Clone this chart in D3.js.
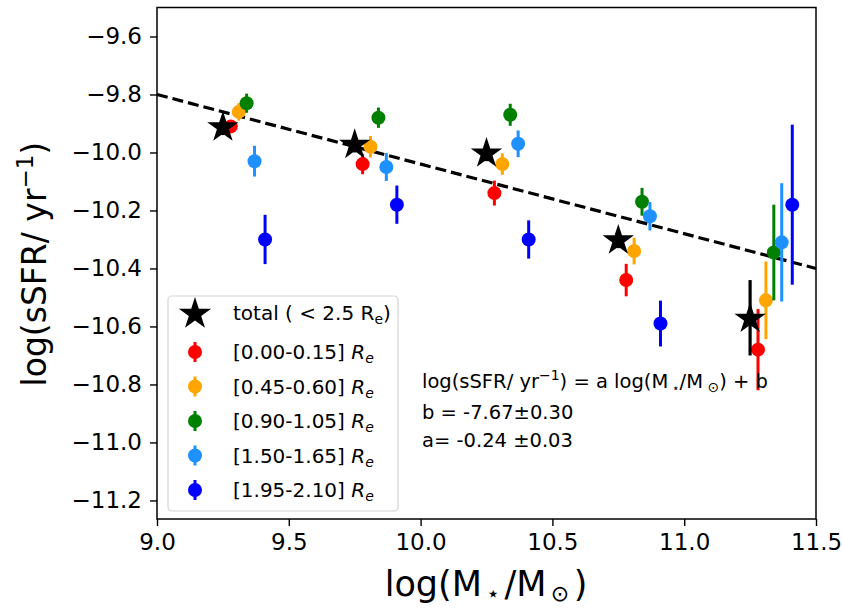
<!DOCTYPE html>
<html>
<head>
<meta charset="utf-8">
<title>sSFR - stellar mass</title>
<script src="https://d3js.org/d3.v7.min.js" charset="utf-8"></script>
<style>
  body { margin: 0; background: #fff; }
  text { font-family: "DejaVu Sans", sans-serif; fill: #000; }
</style>
</head>
<body>
<script>
// total (< 2.5 Re)
var xTotal = [9.25, 9.75, 10.25, 10.75, 11.25];
var yTotal = [-9.91, -9.97, -10.00, -10.30, -10.57];
var eTotal = [0.03, 0.03, 0.03, 0.03, 0.13];

// radial bins
var binLabels = ["[0.00-0.15]", "[0.45-0.60]", "[0.90-1.05]", "[1.50-1.65]", "[1.95-2.10]"];
var binColors = ["#ff0000", "#ffa500", "#008000", "#1e90ff", "#0000ff"];
var xBin1 = [9.28, 9.78, 10.28, 10.78, 11.28];
var yBin1 = [-9.91, -10.04, -10.14, -10.44, -10.68];
var eBin1 = [0.02, 0.035, 0.043, 0.056, 0.14];
var xBin2 = [9.31, 9.81, 10.31, 10.81, 11.31];
var yBin2 = [-9.86, -9.98, -10.04, -10.34, -10.51];
var eBin2 = [0.03, 0.037, 0.037, 0.046, 0.134];
var xBin3 = [9.34, 9.84, 10.34, 10.84, 11.34];
var yBin3 = [-9.83, -9.88, -9.87, -10.17, -10.345];
var eBin3 = [0.033, 0.035, 0.038, 0.048, 0.165];
var xBin4 = [9.37, 9.87, 10.37, 10.87, 11.37];
var yBin4 = [-10.03, -10.05, -9.97, -10.22, -10.31];
var eBin4 = [0.053, 0.048, 0.046, 0.049, 0.204];
var xBin5 = [9.41, 9.91, 10.41, 10.91, 11.41];
var yBin5 = [-10.30, -10.18, -10.30, -10.59, -10.18];
var eBin5 = [0.085, 0.066, 0.066, 0.079, 0.276];

// fit line
var fitSlope = -0.24, fitIntercept = -7.64;

var xTicks = [9.0, 9.5, 10.0, 10.5, 11.0, 11.5];
var yTicks = [-11.2, -11.0, -10.8, -10.6, -10.4, -10.2, -10.0, -9.8, -9.6];

var width = 842, height = 610;
var margin = {top: 7.5, right: 26, bottom: 91, left: 157};

var x = d3.scaleLinear().domain([9.0, 11.5]).range([margin.left, width - margin.right]);
var y = d3.scaleLinear().domain([-11.264, -9.50]).range([height - margin.bottom, margin.top]);

var svg = d3.select("body").append("svg")
    .attr("width", width)
    .attr("height", height);

// axes
var xAxis = svg.append("g")
    .attr("transform", "translate(0," + (height - margin.bottom) + ")")
    .call(d3.axisBottom(x).tickValues(xTicks).tickFormat(d3.format(".1f"))
        .tickSize(7).tickPadding(8).tickSizeOuter(0));
var yAxis = svg.append("g")
    .attr("transform", "translate(" + margin.left + ",0)")
    .call(d3.axisLeft(y).tickValues(yTicks).tickFormat(d3.format(".1f"))
        .tickSize(7).tickPadding(8).tickSizeOuter(0));
[xAxis, yAxis].forEach(function(a) {
    a.select(".domain").remove();
    a.selectAll(".tick line").attr("stroke", "#000").attr("stroke-width", 1.4);
    a.selectAll(".tick text").attr("font-family", "DejaVu Sans").attr("font-size", 23).attr("fill", "#000");
});

svg.append("rect")
    .attr("x", margin.left).attr("y", margin.top)
    .attr("width", width - margin.right - margin.left)
    .attr("height", height - margin.bottom - margin.top)
    .attr("fill", "none").attr("stroke", "#000").attr("stroke-width", 1.5);

var plot = svg.append("g");

// dashed fit line
plot.append("line")
    .attr("x1", x(9.0)).attr("y1", y(fitSlope * 9.0 + fitIntercept))
    .attr("x2", x(11.5)).attr("y2", y(fitSlope * 11.5 + fitIntercept))
    .attr("stroke", "#000").attr("stroke-width", 3.2)
    .attr("stroke-dasharray", "11,5");

var bins = [
    [xBin1, yBin1, eBin1], [xBin2, yBin2, eBin2], [xBin3, yBin3, eBin3],
    [xBin4, yBin4, eBin4], [xBin5, yBin5, eBin5]
];

bins.forEach(function(b, i) {
    var pts = b[0].map(function(v, j) { return {x: v, y: b[1][j], e: b[2][j]}; });
    var g = plot.append("g");
    g.selectAll("line").data(pts).enter().append("line")
        .attr("x1", function(d) { return x(d.x); })
        .attr("x2", function(d) { return x(d.x); })
        .attr("y1", function(d) { return y(d.y - d.e); })
        .attr("y2", function(d) { return y(d.y + d.e); })
        .attr("stroke", binColors[i]).attr("stroke-width", 3);
    g.selectAll("circle").data(pts).enter().append("circle")
        .attr("cx", function(d) { return x(d.x); })
        .attr("cy", function(d) { return y(d.y); })
        .attr("r", 7)
        .attr("fill", binColors[i]);
});

// total, stars on top
var star = d3.symbol().type(d3.symbolStar).size(16.5 * 16.5 / 0.8908);
var tot = xTotal.map(function(v, j) { return {x: v, y: yTotal[j], e: eTotal[j]}; });
var gt = plot.append("g");
gt.selectAll("line").data(tot).enter().append("line")
    .attr("x1", function(d) { return x(d.x); })
    .attr("x2", function(d) { return x(d.x); })
    .attr("y1", function(d) { return y(d.y - d.e); })
    .attr("y2", function(d) { return y(d.y + d.e); })
    .attr("stroke", "#000").attr("stroke-width", 3.2);
gt.selectAll("path").data(tot).enter().append("path")
    .attr("d", star)
    .attr("transform", function(d) { return "translate(" + x(d.x) + "," + (y(d.y) + 1) + ")"; })
    .attr("fill", "#000");

// legend
var leg = svg.append("g");
leg.append("rect")
    .attr("x", 168).attr("y", 296).attr("width", 230).attr("height", 215)
    .attr("rx", 4)
    .attr("fill", "#fff").attr("fill-opacity", 0.8)
    .attr("stroke", "#d4d4d4").attr("stroke-width", 1.2);

leg.append("path")
    .attr("d", d3.symbol().type(d3.symbolStar).size(17 * 17 / 0.8908))
    .attr("transform", "translate(195,314)")
    .attr("fill", "#000");
var t0 = leg.append("text").attr("x", 233).attr("y", 320).attr("font-size", 20);
t0.append("tspan").text("total ( < 2.5 R");
t0.append("tspan").attr("font-size", 14).attr("dy", 4).text("e");
t0.append("tspan").attr("dy", -4).text(")");

binLabels.forEach(function(lab, i) {
    var cy = 352 + i * 34.5;
    leg.append("line")
        .attr("x1", 195).attr("x2", 195).attr("y1", cy - 10).attr("y2", cy + 10)
        .attr("stroke", binColors[i]).attr("stroke-width", 3);
    leg.append("circle").attr("cx", 195).attr("cy", cy).attr("r", 7).attr("fill", binColors[i]);
    var t = leg.append("text").attr("x", 233).attr("y", cy + 7).attr("font-size", 20);
    t.append("tspan").text(lab + " ");
    t.append("tspan").attr("font-style", "italic").text("R");
    t.append("tspan").attr("font-style", "italic").attr("font-size", 14).attr("dy", 4).text("e");
});

// fit annotation
var ann = svg.append("g").attr("font-size", 19.5);
var a1 = ann.append("text").attr("x", 422).attr("y", 388);
a1.append("tspan").text("log(sSFR/ yr");
a1.append("tspan").attr("font-size", 14).attr("dy", -8).text("\u22121");
a1.append("tspan").attr("dy", 8).text(") = a log(M");
a1.append("tspan").attr("font-size", 12).attr("dy", 4).text(" \u22c6");
a1.append("tspan").attr("dy", -4).text("/M");
a1.append("tspan").attr("font-size", 14).attr("dy", 4).text(" \u2299");
a1.append("tspan").attr("dy", -4).text(") + b");
ann.append("text").attr("x", 422).attr("y", 419).text("b = -7.67\u00b10.30");
ann.append("text").attr("x", 422).attr("y", 447).text("a= -0.24 \u00b10.03");

// axis labels
var xl = svg.append("text")
    .attr("x", 486).attr("y", 596)
    .attr("text-anchor", "middle").attr("font-size", 35);
xl.append("tspan").text("log(M");
xl.append("tspan").attr("font-size", 22).attr("dy", 5).text("\u2009\u22c6\u2009");
xl.append("tspan").attr("dy", -5).text("/M");
xl.append("tspan").attr("font-size", 22).attr("dy", 5).text("\u2009\u2299\u2009");
xl.append("tspan").attr("dy", -5).text(")");

var yl = svg.append("text")
    .attr("transform", "translate(46," + y(-10.385) + ") rotate(-90)")
    .attr("text-anchor", "middle").attr("font-size", 33);
yl.append("tspan").text("log(sSFR/ yr");
yl.append("tspan").attr("font-size", 23).attr("dy", -13).text("\u22121");
yl.append("tspan").attr("dy", 13).text(")");
</script>
</body>
</html>
